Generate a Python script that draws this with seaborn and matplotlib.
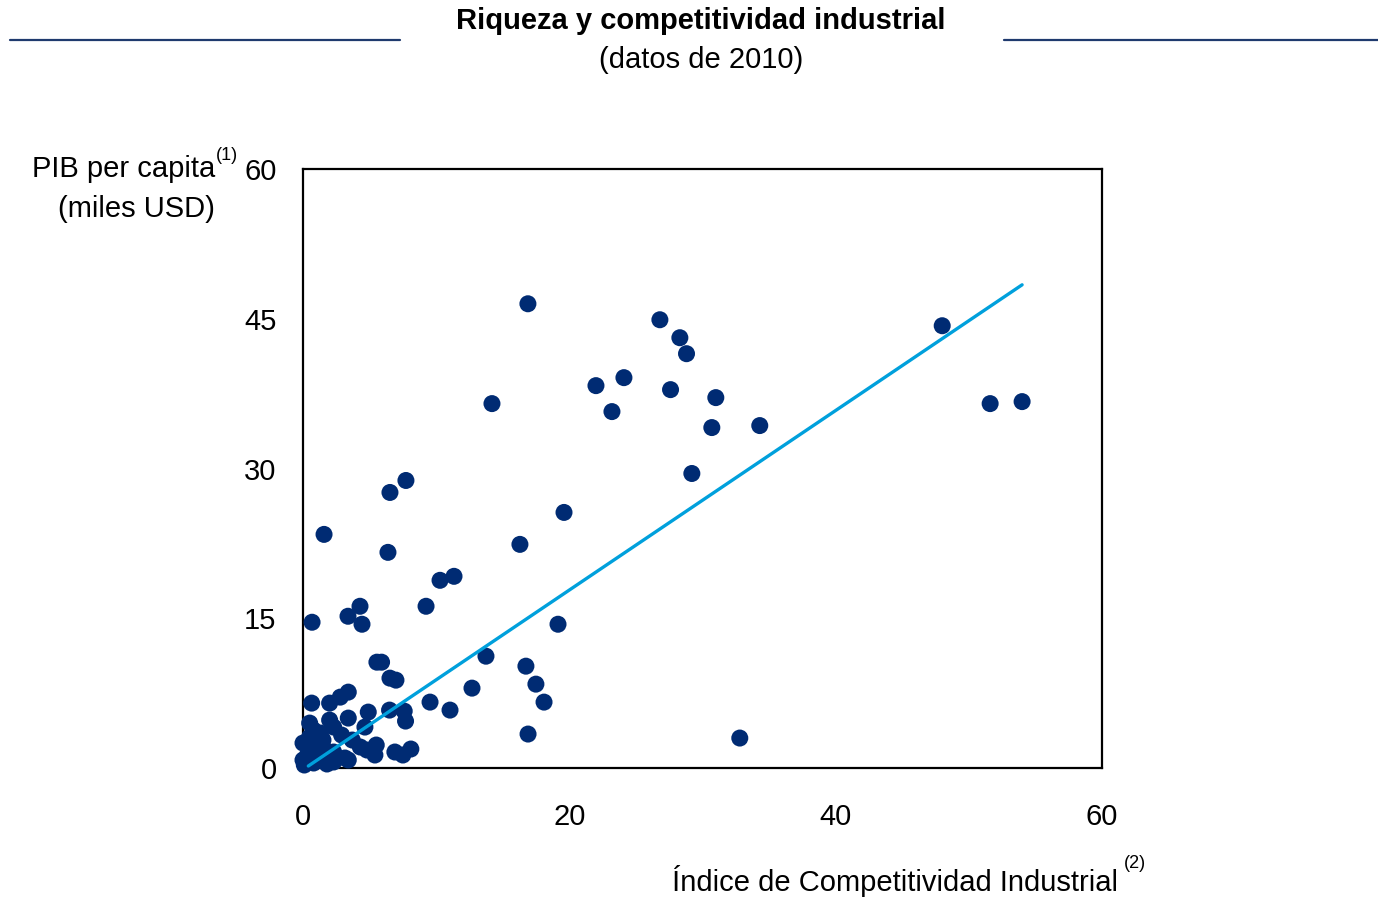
import numpy as np
import pandas as pd
import matplotlib.pyplot as plt
import seaborn as sns
from matplotlib.lines import Line2D

# Índice de competitividad industrial (eje x) y PIB per capita en miles USD (eje y)
indice = [
    0.68, 1.58, 3.38, 4.28, 4.43, 5.55, 5.9, 6.38, 6.53, 7.73, 6.53, 6.98, 9.24, 10.29,
    11.34, 9.54, 11.04, 12.69, 13.74, 14.19, 16.29, 16.89, 16.74, 17.49, 18.1, 16.9,
    19.15, 19.6, 22.0, 23.2, 24.1, 26.8, 28.3, 28.8, 27.6, 31.0, 30.7, 29.2, 34.3, 32.8,
    48.0, 51.6, 54.0,
    7.6, 7.7, 8.1, 7.5, 3.4, 2.8, 2.0, 0.65, 4.9, 3.4, 6.5, 0.5, 2.3, 4.65, 2.9, 1.3,
    0.5, 0.0, 4.3, 5.5, 5.4, 6.9, 4.8, 1.5, 2.3, 3.15, 3.4, 2.3, 1.3, 0.0, 0.1, 0.5,
    1.5, 3.7, 0.8, 2.0, 1.0, 0.3, 0.8, 1.8,
]
pib = [
    14.6, 23.4, 15.2, 16.2, 14.4, 10.6, 10.6, 21.6, 27.6, 28.8, 9.0, 8.8, 16.2, 18.8,
    19.2, 6.6, 5.8, 8.0, 11.2, 36.5, 22.4, 46.5, 10.2, 8.4, 6.6, 3.4,
    14.4, 25.6, 38.3, 35.7, 39.1, 44.9, 43.1, 41.5, 37.9, 37.1, 34.1, 29.5, 34.3, 3.0,
    44.3, 36.5, 36.7,
    5.7, 4.7, 1.9, 1.3, 7.6, 7.1, 6.5, 6.5, 5.6, 5.0, 5.8, 4.5, 4.1, 4.1, 3.3, 3.5,
    3.1, 2.5, 2.1, 2.3, 1.3, 1.6, 1.8, 2.1, 1.6, 1.0, 0.8, 0.6, 1.0, 0.8, 0.3, 1.5,
    2.8, 2.8, 3.8, 4.8, 2.2, 1.2, 0.5, 0.4,
]

# Línea de tendencia (extremos)
tendencia_x = [0.4, 54.0]
tendencia_y = [0.2, 48.4]

x_ticks = [0, 20, 40, 60]
y_ticks = [0, 15, 30, 45, 60]

df = pd.DataFrame({"indice": indice, "pib": pib})
df_tend = pd.DataFrame({"x": tendencia_x, "y": tendencia_y})

sns.set_theme(style="white")
plt.rcParams["font.family"] = ["Liberation Sans", "DejaVu Sans"]

azul_oscuro = "#002B73"
azul_claro = "#00A0DC"
tam = 21

fig = plt.figure(figsize=(13.78, 8.99), dpi=100)
ax = fig.add_axes([303 / 1378, 1 - 768 / 899, 799 / 1378, 599 / 899])

# Puntos de los países
sns.scatterplot(
    x="indice", y="pib", data=df, ax=ax, color=azul_oscuro,
    s=150, edgecolor="none", clip_on=False, zorder=3,
)

# Línea de tendencia
sns.lineplot(x="x", y="y", data=df_tend, ax=ax, color=azul_claro, linewidth=2.4, zorder=4)

ax.set_xlim(0, 60)
ax.set_ylim(0, 60)
ax.set_xticks(x_ticks)
ax.set_yticks(y_ticks)
ax.set_xlabel("")
ax.set_ylabel("")

for sp in ax.spines.values():
    sp.set_color("black")
    sp.set_linewidth(1.6)

ax.tick_params(axis="both", direction="out", length=7, width=1.6, color="black",
               labelsize=tam, labelcolor="black")
ax.tick_params(axis="x", pad=18)
ax.tick_params(axis="y", pad=12)

# Título y subtítulo
fig.text(701 / 1378, 1 - 21 / 899, "Riqueza y competitividad industrial",
         ha="center", va="center", fontsize=tam, fontweight="bold", color="black")
fig.text(701 / 1378, 1 - 60 / 899, "(datos de 2010)",
         ha="center", va="center", fontsize=tam, color="black")

# Líneas a los lados del título
for x0, x1 in [(10, 400), (1004, 1378)]:
    fig.add_artist(Line2D([x0 / 1378, x1 / 1378], [1 - 40 / 899, 1 - 40 / 899],
                          color="#1F3A6E", linewidth=1.6, transform=fig.transFigure))

# Etiqueta del eje y
fig.text(215 / 1378, 1 - 169 / 899, "PIB per capita", ha="right", va="center",
         fontsize=tam, color="black")
fig.text(216 / 1378, 1 - 155 / 899, "(1)", ha="left", va="center",
         fontsize=13, color="black")
fig.text(215 / 1378, 1 - 209 / 899, "(miles USD)", ha="right", va="center",
         fontsize=tam, color="black")

# Etiqueta del eje x
fig.text(1118 / 1378, 1 - 881 / 899, "Índice de Competitividad Industrial",
         ha="right", va="center", fontsize=tam, color="black")
fig.text(1124 / 1378, 1 - 864 / 899, "(2)", ha="left", va="center",
         fontsize=13, color="black")

plt.savefig("out.png", dpi=100)
